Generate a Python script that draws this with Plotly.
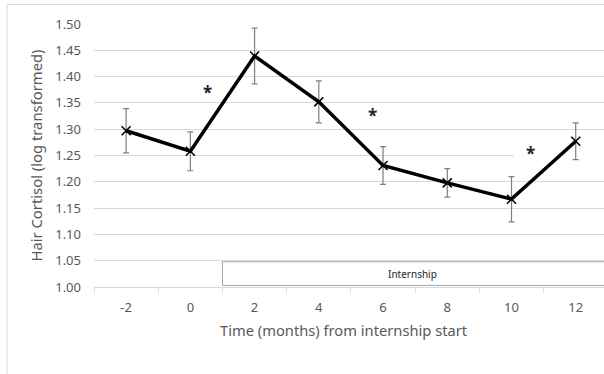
import plotly.graph_objects as go

months = [-2, 0, 2, 4, 6, 8, 10, 12]
cortisol = [1.297, 1.258, 1.439, 1.352, 1.231, 1.198, 1.167, 1.277]
cortisol_err = [0.042, 0.037, 0.053, 0.040, 0.036, 0.027, 0.043, 0.035]
y_ticks = [1.00, 1.05, 1.10, 1.15, 1.20, 1.25, 1.30, 1.35, 1.40, 1.45, 1.50]
star_x = [0.54, 5.66, 10.6]
star_y = [1.370, 1.327, 1.254]

FONT = "Noto Sans"
GRAY = "#595959"
GRID = "#d9d9d9"

fig = go.Figure()
fig.add_trace(go.Scatter(
    x=months, y=cortisol, mode="lines+markers",
    line=dict(color="black", width=3.5),
    marker=dict(symbol="x-thin", size=9, color="black",
                line=dict(color="black", width=1.5)),
    error_y=dict(type="data", array=cortisol_err, visible=True,
                 color="#7f7f7f", thickness=1.2, width=3),
    showlegend=False, cliponaxis=False,
))

fig.update_layout(
    width=604, height=374,
    margin=dict(l=94, r=0, t=24, b=87),
    paper_bgcolor="white", plot_bgcolor="white",
    font=dict(family=FONT, color=GRAY, size=13),
    xaxis=dict(
        range=[-3, 12.88], tickmode="array", tickvals=months,
        ticktext=[str(m) for m in months], ticks="",
        showgrid=False, zeroline=False, showline=True,
        linecolor=GRID, linewidth=1, ticklabelstandoff=8,
        tickfont=dict(size=13, color=GRAY, family=FONT),
        minor=dict(tickmode="array", tickvals=[-3, -1, 1, 3, 5, 7, 9, 11, 13],
                   ticks="outside", ticklen=5, tickcolor=GRID, tickwidth=1,
                   showgrid=False),
    ),
    yaxis=dict(
        range=[1.0, 1.5], tickmode="array", tickvals=y_ticks,
        tickformat=".2f", showgrid=True, gridcolor=GRID, gridwidth=1,
        zeroline=False, showline=False, ticks="", ticklabelstandoff=12,
        tickfont=dict(size=13, color=GRAY, family=FONT),
        title=dict(text="Hair Cortisol (log transformed)", standoff=9,
                   font=dict(size=14.8, color=GRAY, family=FONT)),
    ),
)

# x-axis title
fig.add_annotation(text="Time (months) from internship start", x=4.76, xref="x",
                   y=(287.5 - 330) / 263, yref="paper", yanchor="middle",
                   showarrow=False, font=dict(size=14.7, color=GRAY, family=FONT))

# internship box
fig.add_shape(type="rect", xref="x", yref="y", x0=1, x1=13.5, y0=1.003, y1=1.048,
              line=dict(color="#a6a6a6", width=1), fillcolor="white", layer="between")
fig.add_annotation(text="Internship", x=6.93, xref="x", y=1.0255, yref="y",
                   showarrow=False, font=dict(size=10, color="#262626", family=FONT))

# white text-box behind third asterisk (hides gridline)
fig.add_shape(type="rect", xref="x", yref="y", x0=10.07, x1=13.5, y0=1.235, y1=1.28,
              line=dict(width=0), fillcolor="white", layer="between")

for sx, sy in zip(star_x, star_y):
    fig.add_annotation(text="<b>*</b>", x=sx, y=sy, xref="x", yref="y",
                       showarrow=False, font=dict(size=17, color="#262626", family=FONT))

# chart outer border
fig.add_shape(type="rect", xref="paper", yref="paper",
              x0=(7 - 94) / 510, x1=1.2, y0=-0.6, y1=(287.5 - 5) / 263,
              line=dict(color=GRID, width=1), fillcolor="rgba(0,0,0,0)", layer="below")

fig.write_html("out.html")
